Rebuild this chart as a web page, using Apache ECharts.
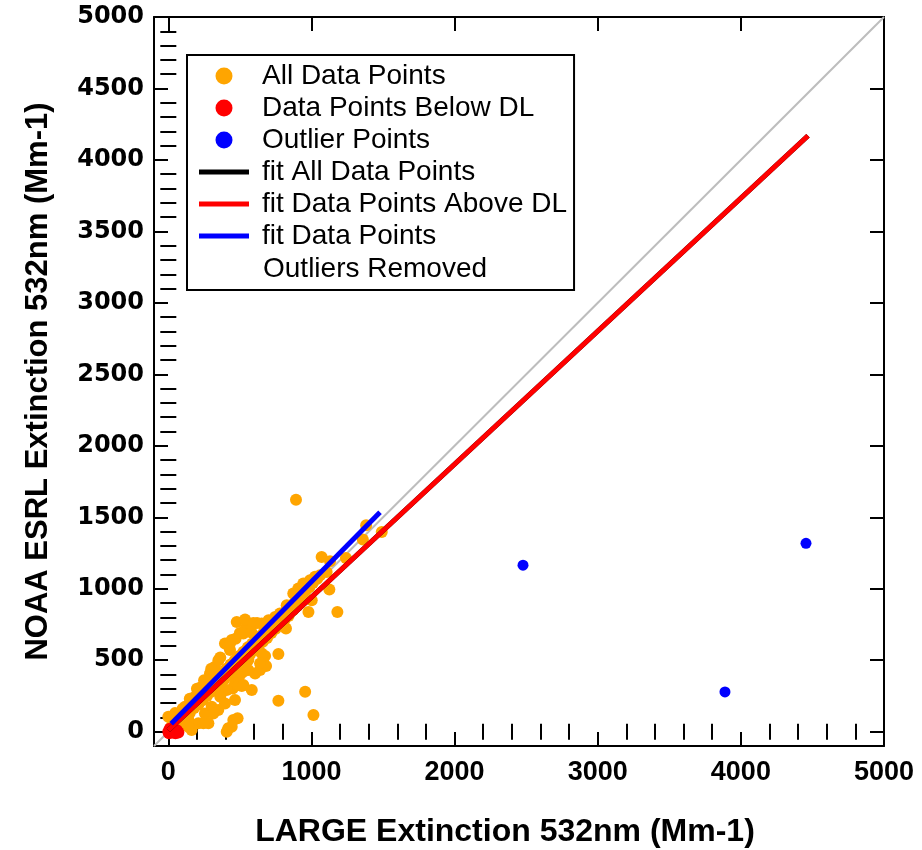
<!DOCTYPE html>
<html>
<head>
<meta charset="utf-8">
<script src="https://cdn.jsdelivr.net/npm/echarts@6/dist/echarts.min.js"></script>
<style>
html,body{margin:0;padding:0;background:#fff;}
#chart{width:922px;height:850px;}
</style>
</head>
<body>
<div id="chart"></div>
<script>
// ---- data ----
const xMajorTicks = [0, 1000, 2000, 3000, 4000, 5000];
const yMajorTicks = [0, 500, 1000, 1500, 2000, 2500, 3000, 3500, 4000, 4500, 5000];
const xMinorTicks = [200,400,600,800,1200,1400,1600,1800,2200,2400,2600,2800,3200,3400,3600,3800,4200,4400,4600,4800];
const yMinorTicks = [100,200,300,400,600,700,800,900,1100,1200,1300,1400,1600,1700,1800,1900,2100,2200,2300,2400,2600,2700,2800,2900,3100,3200,3300,3400,3600,3700,3800,3900,4100,4200,4300,4400,4600,4700,4800,4900];

// orange: main band along the fit lines
const bandPoints = [
  [20,35],[35,20],[50,60],[65,45],[80,95],[95,70],[110,120],[125,100],[140,160],[150,130],[165,190],[180,165],
  [195,220],[210,190],[225,250],[240,220],[255,280],[270,250],[285,310],[300,280],[315,345],[330,305],[345,375],
  [360,335],[375,405],[390,365],[405,440],[420,395],[435,470],[450,425],[465,500],[480,455],[495,530],[510,480],
  [525,560],[540,510],[555,590],[570,540],[585,615],[600,570],[615,645],[630,600],[645,670],[660,630],[675,700],
  [690,655],[705,730],[720,690],[735,760],[750,720],[765,790],[780,750],[795,820],[810,780],[825,850],[840,810],
  [855,880],[870,850],[885,910],[900,880],[920,940],[940,960],[960,990],[985,1010],[1010,1040],[1040,1070]
];
// orange: points above the band
const upperPoints = [
  [0,105],[47,130],[117,175],[186,245],[233,314],[291,408],[326,454],[396,617],[443,641],[363,520],[250,360],
  [200,300],[150,230],[100,160],[300,440],[350,500],[420,600],[470,650],[500,690],[540,720],[580,740],[620,760],
  [478,768],[536,785],[594,761],[652,757],[700,780],[746,803],[780,827],[827,885],[873,967],[908,1002],[943,1037],
  [990,1060],[1025,1084],[1060,1095],[1106,1118],[1071,1223],[1130,1193],[1241,1216],[1359,1344],[1382,1444],
  [892,1623],[1491,1397],[431,571],[431,619]
];
// orange: points below the band
const lowerPoints = [
  [1125,995],[1002,920],[979,838],[1181,838],[822,722],[524,687],[583,692],[664,687],[769,543],[676,529],[683,459],
  [641,431],[652,548],[641,478],[559,501],[606,408],[524,419],[443,408],[501,396],[559,431],[513,319],[450,303],
  [466,338],[489,326],[524,326],[583,291],[373,291],[408,291],[363,245],[396,198],[466,221],[349,152],[303,175],
  [256,128],[314,128],[280,59],[210,59],[245,59],[140,82],[163,12],[82,35],[139,35],[454,82],[419,24],[484,94],
  [443,35],[408,0],[956,280],[769,217],[1014,117]
];
const belowDLPoints = [[0,0],[20,5],[40,0],[60,10],[10,20],[50,-10],[30,-5],[70,-5],[5,-10]];
const outlierPoints = [[2478,1165],[3889,278],[4455,1318]];
const fitAll = [[0,10],[4469,4169]];
const fitAboveDL = [[0,10],[4469,4169]];
const fitNoOutliers = [[20,55],[1479,1535]];
const oneToOne = [[-100,-100],[5000,5000]];

const allDataPoints = bandPoints.concat(upperPoints, lowerPoints);

const AXIS_MIN = -100, AXIS_MAX = 5000;
const labelFontX = {fontFamily:'"Liberation Sans",Arial,sans-serif', fontWeight:'bold', fontSize:27, color:'#000'};
const labelFontY = {fontFamily:'"DejaVu Sans",sans-serif', fontWeight:'bold', fontSize:24, color:'#000'};
const nameFont = {fontFamily:'"Liberation Sans",Arial,sans-serif', fontWeight:'bold', fontSize:31, color:'#000'};
const plainNum = v => String(v);

function ax(extra){
  return Object.assign({
    type:'value', min:AXIS_MIN, max:AXIS_MAX,
    splitLine:{show:false},
    axisLabel:{show:false},
    axisLine:{show:true, onZero:false, lineStyle:{color:'#000', width:2}},
  }, extra);
}
function ticks(values, len){
  return {show:true, inside:true, length:len, customValues:values, lineStyle:{color:'#000', width:2}};
}

const gridBox = {left:154, right:38, top:17, bottom:104, containLabel:false, outerBoundsMode:'none'};

const chart = echarts.init(document.getElementById('chart'), null, {renderer:'canvas'});
const option = {
  animation:false,
  backgroundColor:'#fff',
  grid:[Object.assign({}, gridBox), Object.assign({}, gridBox)],
  xAxis:[
    ax({gridIndex:0, position:'bottom',
      name:'LARGE Extinction 532nm (Mm-1)', nameLocation:'middle', nameGap:70,
      nameTextStyle:Object.assign({}, nameFont, {fontSize:32, padding:[0,28,0,0]}),
      axisTick:ticks(xMajorTicks, 14),
      axisLabel:{show:true, customValues:xMajorTicks, margin:13, formatter:plainNum, ...labelFontX}}),
    ax({gridIndex:0, position:'top', axisTick:ticks(xMajorTicks, 14)}),
    ax({gridIndex:1, position:'bottom', axisLine:{show:false}, axisTick:ticks(xMinorTicks, 8)}),
    ax({gridIndex:1, position:'top', axisLine:{show:false}, axisTick:ticks(xMinorTicks, 8)})
  ],
  yAxis:[
    ax({gridIndex:0, position:'left',
      name:'NOAA ESRL Extinction 532nm (Mm-1)', nameLocation:'middle', nameGap:100, nameRotate:90, nameTextStyle:nameFont,
      axisTick:ticks(yMajorTicks, 14),
      axisLabel:{show:true, customValues:yMajorTicks, margin:10, formatter:plainNum, ...labelFontY}}),
    ax({gridIndex:0, position:'right', axisTick:ticks(yMajorTicks, 14)}),
    ax({gridIndex:1, position:'left', axisLine:{show:false}, axisTick:ticks(yMinorTicks, 8)}),
    ax({gridIndex:1, position:'right', axisLine:{show:false}, axisTick:ticks(yMinorTicks, 8)})
  ],
  legend:{
    orient:'vertical', left:187, top:55,
    padding:[7, 7, 40, 12],
    borderColor:'#000', borderWidth:2, backgroundColor:'#fff',
    itemWidth:50, itemHeight:17, itemGap:4,
    selectedMode:false,
    textStyle:{fontFamily:'"Liberation Sans",Arial,sans-serif', fontSize:28, lineHeight:28, color:'#000', padding:[0,0,0,8]},
    data:[
      {name:'All Data Points', icon:'circle'},
      {name:'Data Points Below DL', icon:'circle'},
      {name:'Outlier Points', icon:'circle'},
      {name:'fit All Data Points', icon:'path://M0,0H50V5H0Z'},
      {name:'fit Data Points Above DL', icon:'path://M0,0H50V5H0Z'},
      {name:'fit Data Points', icon:'path://M0,0H50V5H0Z'}
    ]
  },
  graphic:[
    {type:'text', left:263, top:255, z:100,
     style:{text:'Outliers Removed', font:'28px "Liberation Sans", Arial, sans-serif', fill:'#000'}}
  ],
  series:[
    {type:'line', name:'1:1', data:oneToOne, symbol:'none', silent:true,
     lineStyle:{color:'#bdbdbd', width:2}, z:1},
    {type:'scatter', name:'All Data Points', data:allDataPoints, symbol:'circle', symbolSize:12,
     itemStyle:{color:'#FFA500', opacity:1}, z:2},
    {type:'scatter', name:'Data Points Below DL', data:belowDLPoints, symbol:'circle', symbolSize:12,
     itemStyle:{color:'#FF0000', opacity:1}, z:3},
    {type:'scatter', name:'Outlier Points', data:outlierPoints, symbol:'circle', symbolSize:11,
     itemStyle:{color:'#0000FF', opacity:1}, z:3},
    {type:'line', name:'fit All Data Points', data:fitAll, symbol:'none',
     itemStyle:{color:'#000'}, lineStyle:{color:'#000', width:5}, z:4},
    {type:'line', name:'fit Data Points Above DL', data:fitAboveDL, symbol:'none',
     itemStyle:{color:'#FF0000'}, lineStyle:{color:'#FF0000', width:5}, z:5},
    {type:'line', name:'fit Data Points', data:fitNoOutliers, symbol:'none',
     itemStyle:{color:'#0000FF'}, lineStyle:{color:'#0000FF', width:5}, z:6}
  ]
};
chart.setOption(option);
</script>
</body>
</html>
